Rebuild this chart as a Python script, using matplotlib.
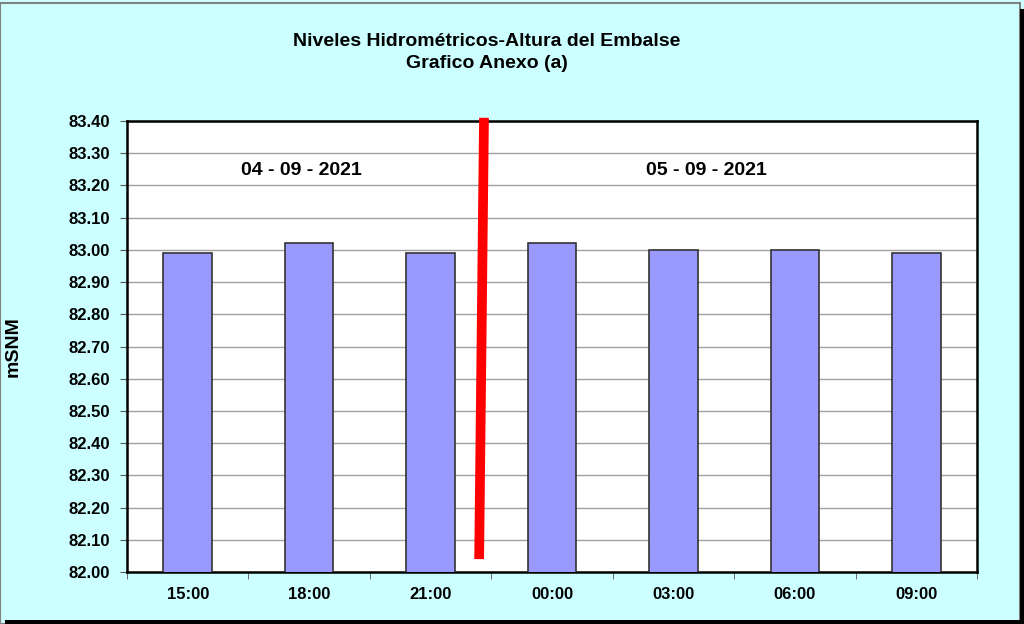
import numpy as np
import matplotlib
matplotlib.use("Agg")
import matplotlib.pyplot as plt
from matplotlib.patches import Rectangle

plt.rcParams['font.family'] = ['Liberation Sans', 'DejaVu Sans']

horas = ["15:00", "18:00", "21:00", "00:00", "03:00", "06:00", "09:00"]
niveles = [82.99, 83.02, 82.99, 83.02, 83.00, 83.00, 82.99]
fechas = ["04 - 09 - 2021", "05 - 09 - 2021"]
fecha_pos = [0.94, 4.27]
corte_x = [2.44, 2.40]
corte_y = [83.41, 82.04]

fig = plt.figure(figsize=(10.24, 6.24), dpi=100)
fig.patch.set_facecolor("#CCFFFF")

# borde con sombra
fig.patches.append(Rectangle((0.0, 0.0), 0.996, 0.995, transform=fig.transFigure,
                             facecolor="none", edgecolor="#808080", lw=1.5, zorder=0))
fig.patches.append(Rectangle((0.996, 0.0), 0.004, 0.985, transform=fig.transFigure,
                             facecolor="black", edgecolor="none", zorder=0))
fig.patches.append(Rectangle((0.005, 0.0), 0.995, 0.006, transform=fig.transFigure,
                             facecolor="black", edgecolor="none", zorder=0))

ax = fig.add_axes([127/1024, 1 - 572/624, 850/1024, 451/624])
ax.set_facecolor("white")

x = np.arange(len(horas))
ax.bar(x, niveles, width=0.4, color="#9999FF", edgecolor="#333333", linewidth=1.2, zorder=3)

ax.set_xlim(-0.5, len(horas) - 0.5)
ax.set_ylim(82.0, 83.4)
ax.set_yticks(np.arange(82.0, 83.41, 0.1))
ax.set_yticklabels(["%.2f" % v for v in np.arange(82.0, 83.41, 0.1)])
ax.yaxis.grid(True, color="#A0A0A0", linewidth=1)
ax.set_axisbelow(True)

ax.set_xticks(x)
ax.set_xticklabels(horas)
ax.set_xticks(np.arange(-0.5, len(horas), 1), minor=True)
ax.tick_params(axis="x", which="major", length=0, pad=11)
ax.tick_params(axis="x", which="minor", length=5, direction="out", color="#555555")
ax.tick_params(axis="y", length=5, direction="out", color="#555555", pad=7)
for lab in ax.get_xticklabels() + ax.get_yticklabels():
    lab.set_fontweight("bold")
    lab.set_fontsize(12)

for s in ax.spines.values():
    s.set_linewidth(1.8)
    s.set_color("black")

ax.plot(corte_x, corte_y, color="red", linewidth=7, solid_capstyle="butt",
        clip_on=False, zorder=5)

for f, p in zip(fechas, fecha_pos):
    ax.text(p, 83.245, f, ha="center", va="center", fontsize=14, fontweight="bold")

ax.set_ylabel("mSNM", fontsize=14, fontweight="bold")
ax.yaxis.set_label_coords(-105/850, 0.5)

fig.text(487/1024, 1 - 42/624, "Niveles Hidrométricos-Altura del Embalse",
         ha="center", va="center", fontsize=14, fontweight="bold")
fig.text(487/1024, 1 - 63/624, "Grafico Anexo (a)",
         ha="center", va="center", fontsize=14, fontweight="bold")

fig.savefig("out.png", dpi=100, facecolor=fig.get_facecolor())
